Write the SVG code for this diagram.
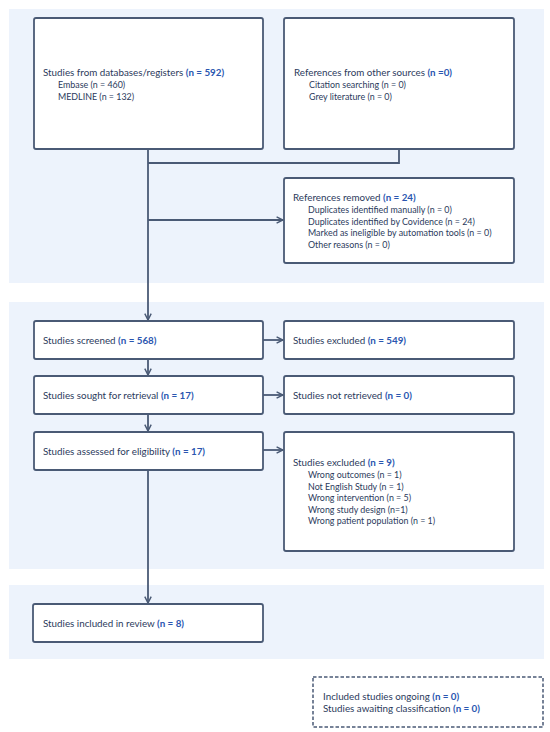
<svg xmlns="http://www.w3.org/2000/svg" width="550" height="732" viewBox="0 0 550 732">
<defs>
<style>
.panel{fill:#edf3fc;stroke:none}
.box{fill:#ffffff;stroke:#4a5a75;stroke-width:1.8}
.dash{fill:#ffffff;stroke:#4a5a75;stroke-width:1.5;stroke-dasharray:3.5 2}
.ln{fill:none;stroke:#4a5a75;stroke-width:1.8}
text{font-family:Lato,"Open Sans","Liberation Sans",sans-serif;font-size:9.8px;fill:#2b3a5c}
.s{font-size:8.9px}
.n{fill:#2a56b0;font-weight:bold}
</style>
<marker id="ah" viewBox="0 0 10 10" refX="9" refY="5" markerWidth="8" markerHeight="8" markerUnits="userSpaceOnUse" orient="auto">
<path d="M1,1 L9,5 L1,9" fill="none" stroke="#4a5a75" stroke-width="1.8"/>
</marker>
</defs>
<rect width="550" height="732" fill="#ffffff"/>
<rect class="panel" x="9" y="9" width="535" height="274"/>
<rect class="panel" x="9" y="302" width="535" height="267"/>
<rect class="panel" x="9" y="585" width="535" height="74"/>

<g id="connectors">
<path class="ln" d="M148,149 V320" marker-end="url(#ah)"/>
<path class="ln" d="M399,149 V163 H148"/>
<path class="ln" d="M148,220 H283" marker-end="url(#ah)"/>
<path class="ln" d="M148,359 V375" marker-end="url(#ah)"/>
<path class="ln" d="M148,414 V431" marker-end="url(#ah)"/>
<path class="ln" d="M148,470 V603" marker-end="url(#ah)"/>
<path class="ln" d="M263,340 H283" marker-end="url(#ah)"/>
<path class="ln" d="M263,395 H283" marker-end="url(#ah)"/>
<path class="ln" d="M263,450 H283" marker-end="url(#ah)"/>
</g>

<g id="databases">
<rect class="box" x="34" y="18" width="229" height="131" rx="2"/>
<text x="43" y="76">Studies from databases/registers <tspan class="n">(n = 592)</tspan></text>
<text class="s" x="58" y="88">Embase (n = 460)</text>
<text class="s" x="58" y="100">MEDLINE (n = 132)</text>
</g>

<g id="other">
<rect class="box" x="284" y="18" width="230" height="131" rx="2"/>
<text x="294" y="76">References from other sources <tspan class="n">(n =0)</tspan></text>
<text class="s" x="309" y="88">Citation searching (n = 0)</text>
<text class="s" x="309" y="100">Grey literature (n = 0)</text>
</g>

<g id="removed">
<rect class="box" x="284" y="178" width="230" height="85" rx="2"/>
<text x="293" y="201">References removed <tspan class="n">(n = 24)</tspan></text>
<text class="s" x="308" y="213">Duplicates identified manually (n = 0)</text>
<text class="s" x="308" y="224.5">Duplicates identified by Covidence (n = 24)</text>
<text class="s" x="308" y="236">Marked as ineligible by automation tools (n = 0)</text>
<text class="s" x="308" y="247.5">Other reasons (n = 0)</text>
</g>

<g id="screened">
<rect class="box" x="34" y="321" width="229" height="38" rx="2"/>
<text x="43" y="344">Studies screened <tspan class="n">(n = 568)</tspan></text>
</g>

<g id="excluded1">
<rect class="box" x="284" y="321" width="230" height="38" rx="2"/>
<text x="293" y="344">Studies excluded <tspan class="n">(n = 549)</tspan></text>
</g>

<g id="sought">
<rect class="box" x="34" y="376" width="229" height="38" rx="2"/>
<text x="43" y="398.5">Studies sought for retrieval <tspan class="n">(n = 17)</tspan></text>
</g>

<g id="notretrieved">
<rect class="box" x="284" y="376" width="230" height="38" rx="2"/>
<text x="293" y="398.5">Studies not retrieved <tspan class="n">(n = 0)</tspan></text>
</g>

<g id="assessed">
<rect class="box" x="34" y="432" width="229" height="38" rx="2"/>
<text x="43" y="454.5">Studies assessed for eligibility <tspan class="n">(n = 17)</tspan></text>
</g>

<g id="excluded2">
<rect class="box" x="284" y="432" width="230" height="119" rx="2"/>
<text x="293" y="466">Studies excluded <tspan class="n">(n = 9)</tspan></text>
<text class="s" x="308" y="478">Wrong outcomes (n = 1)</text>
<text class="s" x="308" y="489.5">Not English Study (n = 1)</text>
<text class="s" x="308" y="501">Wrong intervention (n = 5)</text>
<text class="s" x="308" y="512.5">Wrong study design (n=1)</text>
<text class="s" x="308" y="524">Wrong patient population (n = 1)</text>
</g>

<g id="included">
<rect class="box" x="33" y="604" width="230" height="38" rx="2"/>
<text x="43" y="627">Studies included in review <tspan class="n">(n = 8)</tspan></text>
</g>

<g id="ongoing">
<rect class="dash" x="313" y="677" width="230" height="50"/>
<text x="323" y="699.5">Included studies ongoing <tspan class="n">(n = 0)</tspan></text>
<text x="323" y="712">Studies awaiting classification <tspan class="n">(n = 0)</tspan></text>
</g>
</svg>
